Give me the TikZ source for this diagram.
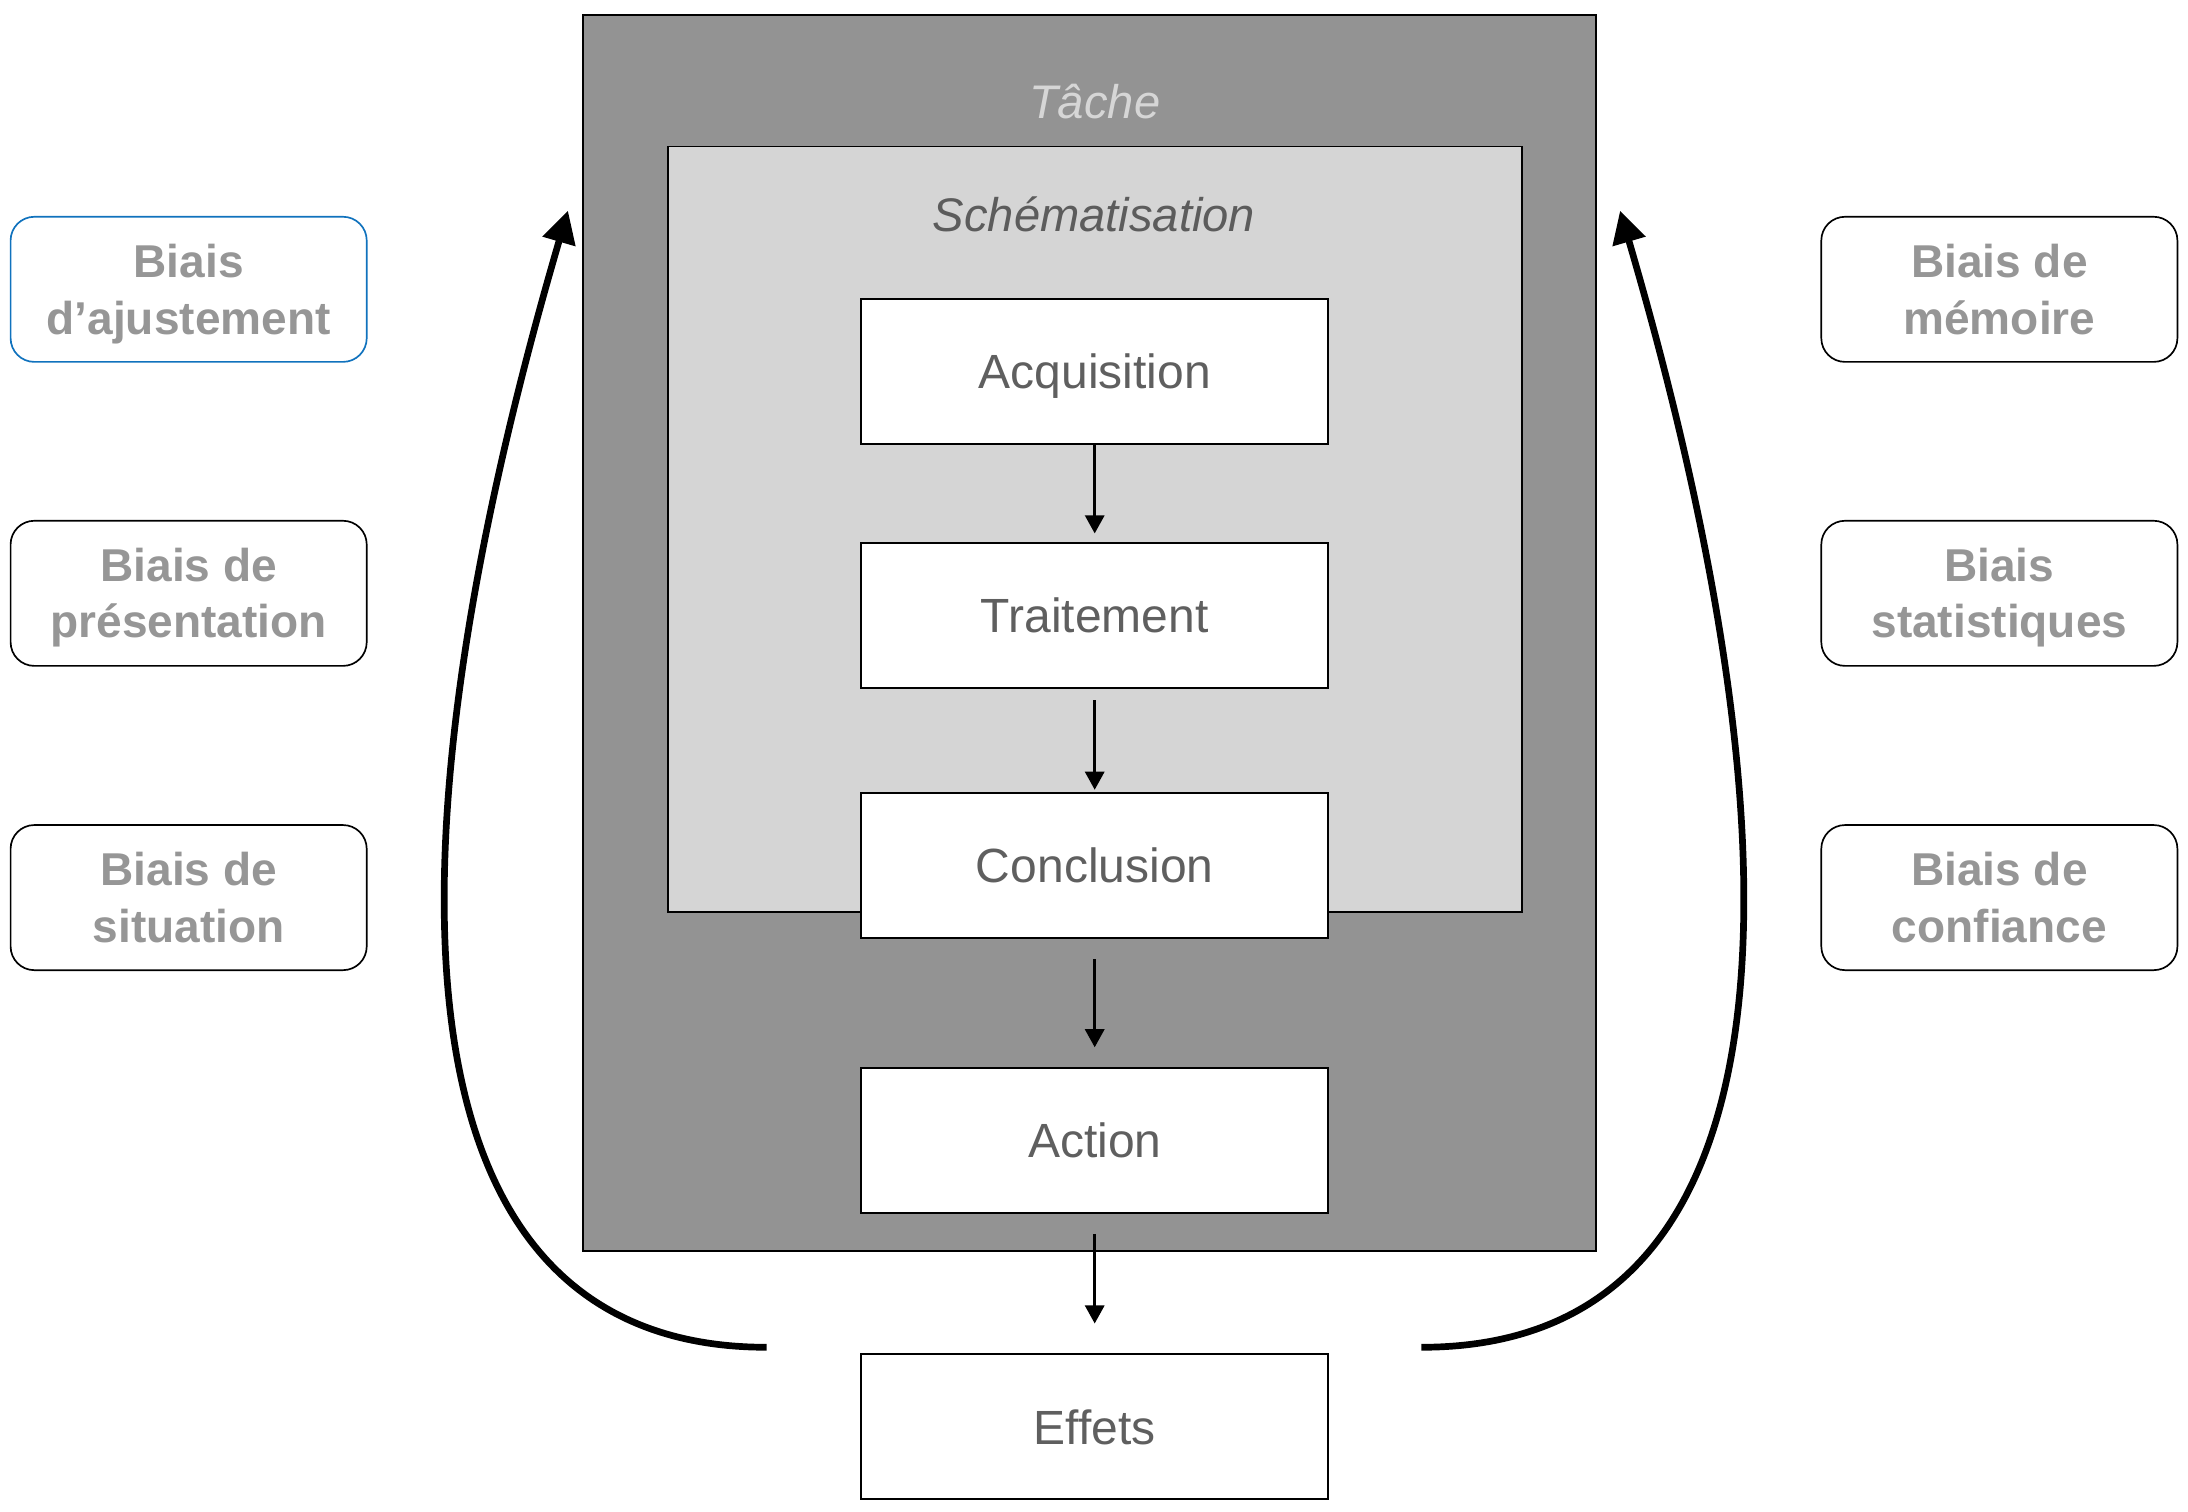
\documentclass[tikz,border=0pt]{standalone}
\usepackage{fontspec}
\setmainfont{Liberation Sans}
\usetikzlibrary{arrows.meta}
\definecolor{outerfill}{RGB}{147,147,147}
\definecolor{innerfill}{RGB}{213,213,213}
\definecolor{tachetext}{RGB}{214,214,214}
\definecolor{schemtext}{RGB}{92,92,92}
\definecolor{boxtext}{RGB}{95,95,95}
\definecolor{biaistext}{RGB}{150,150,150}
\definecolor{biaisblue}{RGB}{16,114,189}
\begin{document}
\begin{tikzpicture}[x=0.5pt,y=-0.5pt,
  stepbox/.style={draw=black,line width=0.7pt,fill=white,minimum width=167.5pt,minimum height=52pt,inner sep=0pt,outer sep=0pt,text=boxtext,font=\fontsize{17.2pt}{20pt}\selectfont,text height=12.6pt,text depth=0pt},
  biasbox/.style={draw=black,line width=0.6pt,rounded corners=8.5pt,minimum width=127.6pt,minimum height=52pt,inner sep=0pt,outer sep=0pt},
  biastext/.style={text=biaistext,font=\fontsize{16.5pt}{20pt}\selectfont\bfseries,anchor=base,inner sep=0pt},
  titletext/.style={font=\fontsize{16.9pt}{20pt}\selectfont\itshape,anchor=base,inner sep=0pt},
  flow/.style={-{Triangle[width=6.8pt,length=6.5pt]},line width=1.2pt},
  loopback/.style={-{Triangle[width=11.8pt,length=11.5pt]},line width=2.4pt}
]
\useasboundingbox (0,0) rectangle (1568,1083.55);
% containers
\node[draw=black,line width=0.7pt,fill=outerfill,minimum width=363pt,minimum height=442.75pt,inner sep=0pt] (tache) at (781,453.75) {};
\node[draw=black,line width=0.7pt,fill=innerfill,minimum width=306pt,minimum height=274.25pt,inner sep=0pt] (schema) at (785,379.25) {};
\node[titletext,text=tachetext] (tachelbl) at (784.5,84.6) {Tâche};
\node[titletext,text=schemtext] (schemalbl) at (784,166) {Schématisation};
% steps
\node[stepbox] (acq) at (784.5,266) {Acquisition};
\node[stepbox] (trait) at (784.5,441) {Traitement};
\node[stepbox] (concl) at (784.5,620) {Conclusion};
\node[stepbox] (action) at (784.5,817.25) {Action};
\node[stepbox] (effets) at (784.5,1022.5) {Effets};
% arrows
\draw[flow,shorten >=3.35pt] (acq) -- (trait);
\draw[flow,shorten <=4.4pt,shorten >=1pt] (trait) -- (concl);
\draw[flow,shorten <=7.75pt,shorten >=7.35pt] (concl) -- (action);
\draw[flow,shorten <=7.5pt,shorten >=11pt] (action) -- (effets);
% bias boxes left
\node[biasbox,draw=biaisblue] (bl1) at (135.2,207.35) {};
\node[biasbox] (bl2) at (135.2,425.2) {};
\node[biasbox] (bl3) at (135.2,643.25) {};
\node[biastext] (bl1a) at (135.2,199.2) {Biais};
\node[biastext] (bl1b) at (135.2,239.8) {d’ajustement};
\node[biastext] (bl2a) at (135.2,416.5) {Biais de};
\node[biastext] (bl2b) at (135.2,457.1) {présentation};
\node[biastext] (bl3a) at (135.2,634.55) {Biais de};
\node[biastext] (bl3b) at (135.2,675.15) {situation};
% bias boxes right
\node[biasbox] (br1) at (1432.8,207.35) {};
\node[biasbox] (br2) at (1432.8,425.2) {};
\node[biasbox] (br3) at (1432.8,643.25) {};
\node[biastext] (br1a) at (1432.8,199.2) {Biais de};
\node[biastext] (br1b) at (1432.8,239.8) {mémoire};
\node[biastext] (br2a) at (1432.8,416.5) {Biais};
\node[biastext] (br2b) at (1432.8,457.1) {statistiques};
\node[biastext] (br3a) at (1432.8,634.55) {Biais de};
\node[biastext] (br3b) at (1432.8,675.15) {confiance};
% feedback loops
\coordinate (lstart) at (549.4,965.5);
\coordinate (lend) at (407,151);
\coordinate (rstart) at (1018.6,965.5);
\coordinate (rend) at (1161,151);
\draw[loopback] (lstart) .. controls (274.4,965.5) and (272.1,611.8) .. (lend);
\draw[loopback] (rstart) .. controls (1293.6,965.5) and (1295.9,611.8) .. (rend);
\end{tikzpicture}
\end{document}
